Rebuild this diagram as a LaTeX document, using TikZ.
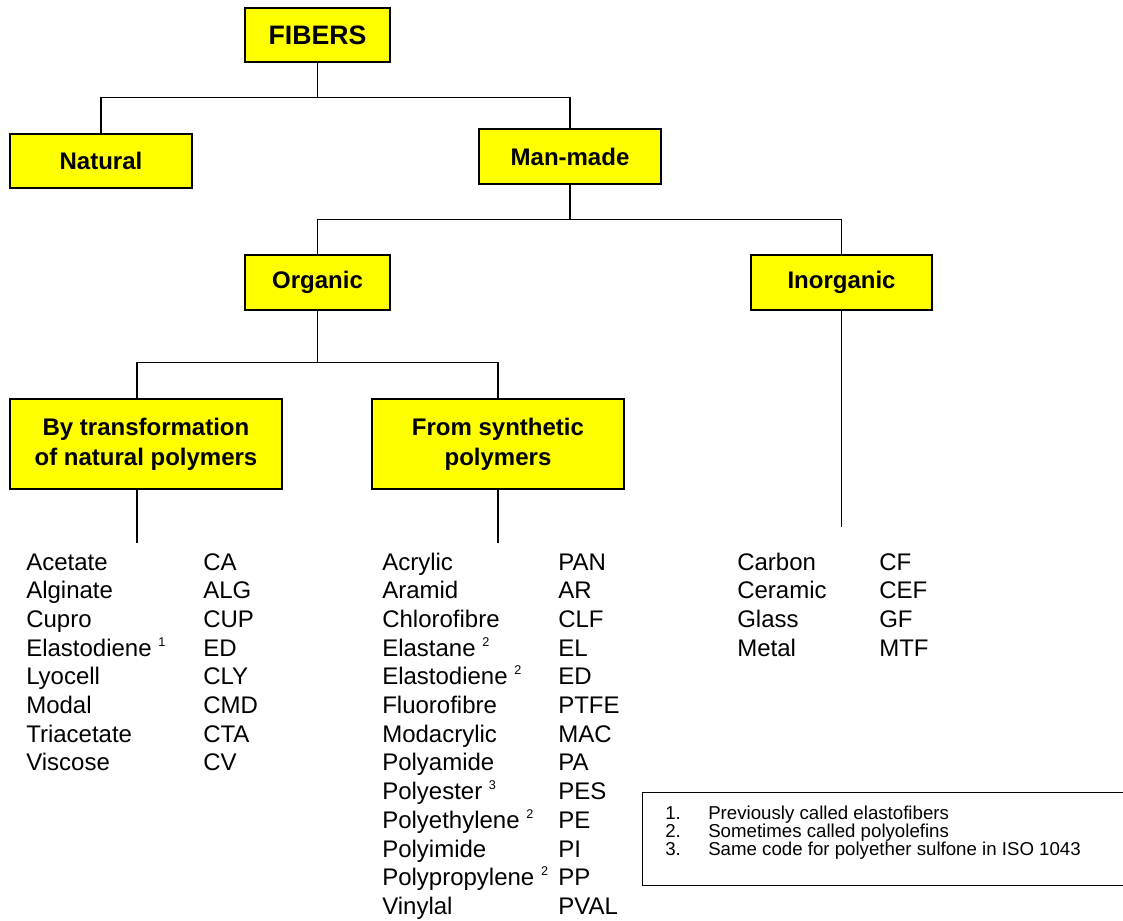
\documentclass[tikz,border=0pt]{standalone}
\usepackage{fontspec}
\setmainfont{Liberation Sans}
\usetikzlibrary{shadows}
\definecolor{boxyellow}{HTML}{FFFF00}
\newcommand{\fnmark}[1]{\raisebox{7.5pt}{\fontsize{9.5}{9.5}\selectfont #1}}

\begin{document}
\begin{tikzpicture}[x=0.75pt,y=-0.75pt,
    catbox/.style={draw=black,line width=0.9pt,fill=boxyellow,align=center,inner sep=0pt,
      font=\fontsize{18}{22.5}\selectfont\bfseries,
      drop shadow={shadow xshift=1.1pt,shadow yshift=-1.1pt,fill=black!45,opacity=1}},
    link/.style={line width=0.9pt},
    entry/.style={anchor=base west,inner sep=0pt,font=\fontsize{18}{21.5}\selectfont},
    noteline/.style={anchor=base west,inner sep=0pt,font=\fontsize{14}{13.5}\selectfont}]
  \useasboundingbox (0,0) rectangle (1123,920);

  % classification boxes
  \node[catbox,minimum width=108.75pt,minimum height=40.5pt,font=\fontsize{20}{24}\selectfont\bfseries] (fibers) at (317.5,35) {FIBERS};
  \node[catbox,minimum width=136.5pt,minimum height=40.5pt] (natural) at (101,161) {Natural};
  \node[catbox,minimum width=136.5pt,minimum height=41.25pt] (manmade) at (570,156.5) {Man-made};
  \node[catbox,minimum width=108.75pt,minimum height=41.25pt] (organic) at (317.5,282.5) {Organic};
  \node[catbox,minimum width=135.75pt,minimum height=41.25pt] (inorganic) at (841.5,282.5) {Inorganic};
  \node[catbox,minimum width=204pt,minimum height=67.5pt] (bytrans) at (146,444) {By transformation\\of natural polymers};
  \node[catbox,minimum width=189pt,minimum height=67.5pt] (synth) at (498,444) {From synthetic\\polymers};

  % tree lines
  \draw[link] (fibers.south) -- ++(0,35) coordinate (j1);
  \draw[link] (natural.north) |- (j1) -| (manmade.north);
  \draw[link] (manmade.south) -- ++(0,35) coordinate (j2);
  \draw[link] (organic.north) |- (j2) -| (inorganic.north);
  \draw[link] (organic.south) -- ++(0,52) coordinate (j3);
  \draw[link] ([xshift=-6.75pt]bytrans.north) |- (j3) -| (synth.north);
  \draw[link] ([xshift=-6.75pt]bytrans.south) -- ++(0,53);
  \draw[link] (synth.south) -- ++(0,53);
  \draw[link] (inorganic.south) -- ++(0,216);

  % fibre names and codes
  \foreach \fname/\fcode [count=\i from 0] in {Acetate/CA,Alginate/ALG,Cupro/CUP,{Elastodiene \fnmark{1}}/ED,
      Lyocell/CLY,Modal/CMD,Triacetate/CTA,Viscose/CV}{
    \node[entry] (tname-\i) at (26,570+28.7*\i) {\fname};
    \node[entry] (tcode-\i) at (203,570+28.7*\i) {\fcode};
  }
  \foreach \fname/\fcode [count=\i from 0] in {Acrylic/PAN,Aramid/AR,Chlorofibre/CLF,{Elastane \fnmark{2}}/EL,
      {Elastodiene \fnmark{2}}/ED,Fluorofibre/PTFE,Modacrylic/MAC,Polyamide/PA,{Polyester \fnmark{3}}/PES,
      {Polyethylene \fnmark{2}}/PE,Polyimide/PI,{Polypropylene \fnmark{2}}/PP,Vinylal/PVAL}{
    \node[entry] (sname-\i) at (382,570+28.7*\i) {\fname};
    \node[entry] (scode-\i) at (558,570+28.7*\i) {\fcode};
  }
  \foreach \fname/\fcode [count=\i from 0] in {Carbon/CF,Ceramic/CEF,Glass/GF,Metal/MTF}{
    \node[entry] (iname-\i) at (737,570+28.7*\i) {\fname};
    \node[entry] (icode-\i) at (879,570+28.7*\i) {\fcode};
  }

  % footnotes
  \node[draw,line width=0.9pt,anchor=north west,inner sep=0pt,minimum width=375pt,minimum height=69.5pt] (notebox) at (642,792) {};
  \foreach \ntext [count=\i] in {Previously called elastofibers,Sometimes called polyolefins,
      Same code for polyether sulfone in ISO 1043}{
    \node[noteline] (notenum-\i) at (665,801+18*\i) {\i.};
    \node[noteline] (note-\i) at (708,801+18*\i) {\ntext};
  }
\end{tikzpicture}
\end{document}
